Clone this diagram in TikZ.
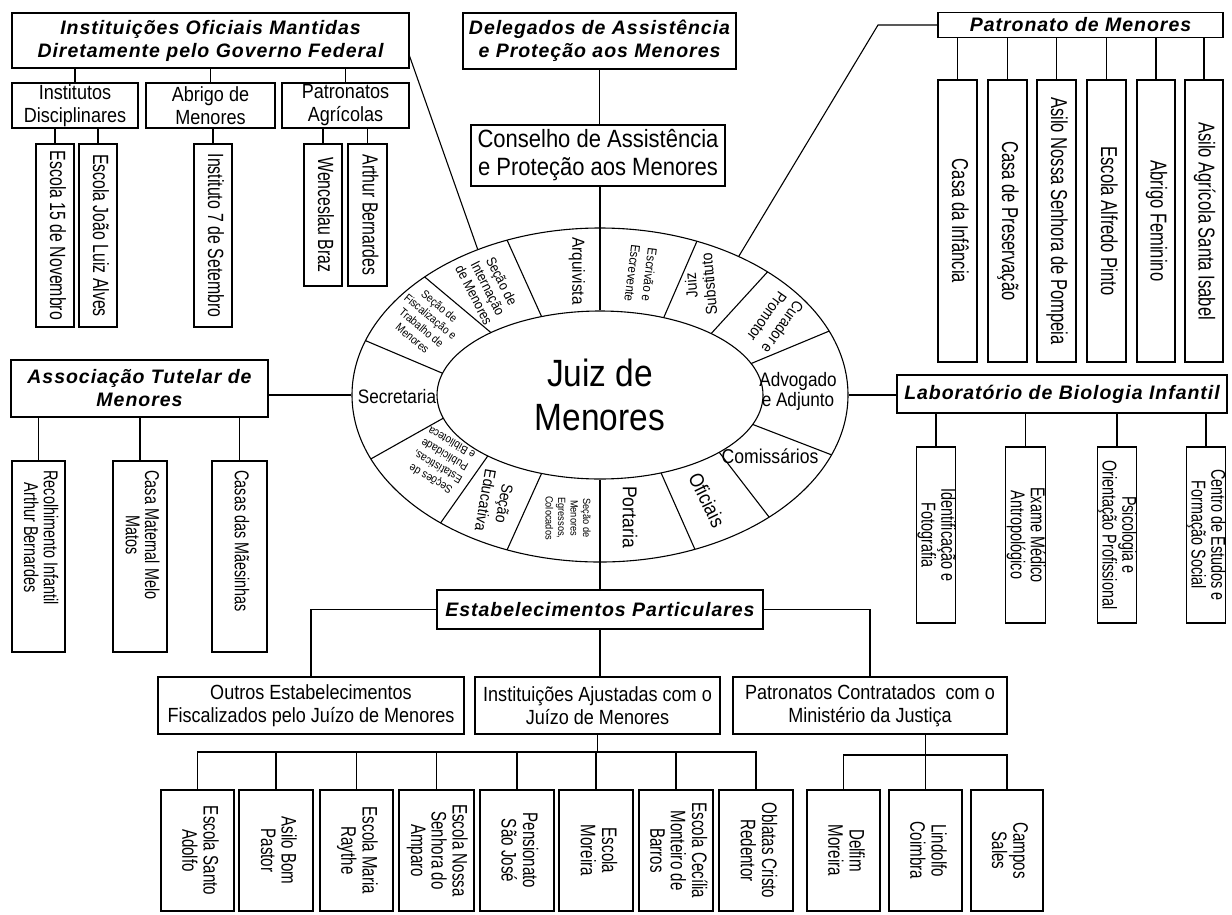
\documentclass[tikz,border=0pt]{standalone}
\usepackage{fontspec}
\usepackage{graphicx}
\setmainfont{Liberation Sans}
\newfontfamily\hf[FakeStretch=0.88]{Liberation Sans}
\newfontfamily\vf[FakeStretch=0.72]{Liberation Sans}
\newfontfamily\tf[LetterSpace=5]{Liberation Sans}
\usetikzlibrary{shapes.geometric,calc}
\newcommand{\vt}[1]{\rotatebox{-90}{\begin{tabular}{@{}c@{}}#1\end{tabular}}}
\newcommand{\vtt}[2]{\rotatebox{-90}{\makebox[#1][l]{\begin{tabular}{@{}c@{}}#2\end{tabular}}}}
\tikzset{
 ln/.style={line width=1.1pt},
 sz/.style 2 args={minimum width=#1pt, minimum height=#2pt},
 bx/.style={draw, ln, inner sep=0pt, outer sep=0pt, align=center, font=\hf\fontsize{20.5}{23}\selectfont},
 ttl/.style={bx, font=\tf\bfseries\itshape\fontsize{19.5}{23}\selectfont},
 lfa/.style={draw, ln, inner sep=0pt, outer sep=0pt, font=\vf\fontsize{22}{20}\selectfont},
 lfb/.style={lfa, font=\vf\fontsize{23}{20}\selectfont},
 lfc/.style={lfa, font=\vf\fontsize{20}{18}\selectfont},
 lfd/.style={lfa, font=\vf\fontsize{21}{20}\selectfont},
 rl/.style={inner sep=0pt, align=center},
}
\begin{document}
\begin{tikzpicture}[x=1pt, y=-1pt]
\fill[white] (0,0) rectangle (1232,914);
\useasboundingbox (0,0) rectangle (1232,914);

% ---------- top left
\node[ttl, sz={397}{55}] (ioff) at (210.5,40.5) {Instituições Oficiais Mantidas\\Diretamente pelo Governo Federal};
\node[bx, sz={126}{45}] (instd) at (75,105.5) {Institutos\\Disciplinares};
\node[bx, sz={129}{45}] (abrig) at (210.5,105.5) {Abrigo de\\Menores};
\node[bx, sz={127}{45}] (patag) at (345.5,105.5) {Patronatos\\Agrícolas};
\node[lfa, sz={38}{183}] (e15) at (55,235.5) {\vt{Escola 15 de Novembro}};
\node[lfa, sz={38}{183}] (ejla) at (98,235.5) {\vt{Escola João Luiz Alves}};
\node[lfa, sz={38}{183}] (i7) at (213,235.5) {\vt{Instituto 7 de Setembro}};
\node[lfa, sz={38}{142}] (wb) at (323,215) {\vt{Wenceslau Braz}};
\node[lfa, sz={39}{142}] (abe) at (367.5,215) {\vt{Arthur Bernardes}};

% ---------- top centre
\node[ttl, sz={273}{56}] (deleg) at (599.5,41) {Delegados de Assistência\\e Proteção aos Menores};
\node[bx, sz={254}{61}, font=\hf\fontsize{25}{28}\selectfont] (cons) at (598,155.5) {Conselho de Assistência\\e Proteção aos Menores};

% ---------- top right
\node[ttl, sz={285}{25}] (patm) at (1080.5,25) {Patronato de Menores};
\node[lfb, sz={39}{282}] (tr1) at (957.5,221) {\vt{Casa da Infância}};
\node[lfb, sz={39}{282}] (tr2) at (1007.5,221) {\vt{Casa de Preservação}};
\node[lfb, sz={39}{282}] (tr3) at (1056.5,221) {\vt{Asilo Nossa Senhora de Pompeia}};
\node[lfb, sz={39}{282}] (tr4) at (1106.5,221) {\vt{Escola Alfredo Pinto}};
\node[lfb, sz={38}{282}] (tr5) at (1156,221) {\vt{Abrigo Feminino}};
\node[lfb, sz={38}{282}] (tr6) at (1204,221) {\vt{Asilo Agrícola Santa Isabel}};

% ---------- ring
\node[draw, ln, ellipse, sz={496}{334}, inner sep=0pt] (ring) at (600,395) {};
\node[draw, ln, ellipse, sz={326}{168}, inner sep=0pt, align=center, font=\hf\fontsize{38}{44}\selectfont] (juiz) at (600,395) {Juiz de\\Menores};
\begin{scope}[shift={(600,395)}]
\foreach \a/\b in {-67/-67,-47/-47.5,-22/-22.5,20.5/21,43/47,68/67.5,111/112,133.5/130,164/157.5,-165/-161,-132/-135,-111/-112}
  \draw[ln] (\a:163 and 84) -- (\b:248 and 167);
\end{scope}
\node[rl, rotate=-90, font=\hf\fontsize{17.5}{20}\selectfont] (sArq) at (577,271) {Arquivista};
\node[rl, rotate=-97, font=\hf\fontsize{13}{17}\selectfont] (sEsc) at (641,274) {Escrivão e\\Escrevente};
\node[rl, rotate=95, font=\hf\fontsize{16}{18}\selectfont] (sJui) at (700,285) {Juiz\\Substituto};
\node[rl, rotate=235, font=\hf\fontsize{15.5}{19}\selectfont] (sCur) at (775,322) {Curador e\\Promotor};
\node[rl, font=\hf\fontsize{19.5}{20}\selectfont] (sAdv) at (798,391) {Advogado\\e Adjunto};
\node[rl, font=\hf\fontsize{20}{22}\selectfont] (sCom) at (770,456) {Comissários};
\node[rl, rotate=-64, font=\hf\fontsize{20}{22}\selectfont] (sOfi) at (707,500) {Oficiais};
\node[rl, rotate=-90, font=\hf\fontsize{20}{22}\selectfont] (sPor) at (630,517) {Portaria};
\node[rl, rotate=-90, font=\hf\fontsize{10.5}{12.5}\selectfont] (sMen) at (568,518) {Seção de\\Menores\\Egressos,\\Colocados};
\node[rl, rotate=-100, font=\hf\fontsize{16}{19}\selectfont] (sEdu) at (495,502) {Seção\\Educativa};
\node[rl, rotate=150, font=\hf\fontsize{11.5}{14}\selectfont] (sEst) at (441,461) {Seções de\\Estatísticas,\\Publicidade\\e Biblioteca};
\node[rl, font=\hf\fontsize{19.5}{22}\selectfont] (sSec) at (397,397) {Secretaria};
\node[rl, rotate=-40, font=\hf\fontsize{11.5}{14}\selectfont] (sFis) at (426,322) {Seção de\\Fiscalização e\\Trabalho de\\Menores};
\node[rl, rotate=-63, font=\hf\fontsize{14}{15.5}\selectfont] (sInt) at (488,288) {Seção de\\Internação\\de Menores};

% ---------- left
\node[ttl, sz={257}{57}] (assoc) at (139.5,388.5) {Associação Tutelar de\\Menores};
\node[lfc, sz={53}{191}] (al1) at (38.5,556.5) {\vtt{172pt}{Recolhimento Infantil\\Arthur Bernardes}};
\node[lfc, sz={54}{191}] (al2) at (140,556.5) {\vtt{172pt}{Casa Maternal Melo\\Matos}};
\node[lfc, sz={55}{191}] (al3) at (239.5,556.5) {\vtt{172pt}{Casas das Mãesinhas}};

% ---------- right
\node[ttl, sz={330}{38}] (lab) at (1062,394) {Laboratório de Biologia Infantil};
\node[lfc, sz={38}{176}] (ar1) at (936,535) {\vt{Identificação e\\Fotografia}};
\node[lfc, sz={37}{176}] (ar2) at (1025.5,535) {\vt{Exame Médico\\Antropológico}};
\node[lfc, sz={38}{176}] (ar3) at (1117,535) {\vt{Psicologia e\\Orientação Profissional}};
\node[lfc, sz={38}{176}] (ar4) at (1206,535) {\vt{Centro de Estudos e\\Formação Social}};

% ---------- bottom
\node[ttl, sz={326}{39}] (estab) at (600,609.5) {Estabelecimentos Particulares};
\node[bx, sz={306}{57}] (outros) at (311,705.5) {Outros Estabelecimentos\\Fiscalizados pelo Juízo de Menores};
\node[bx, sz={245}{57}] (ajust) at (597.5,705.5) {Instituições Ajustadas com o\\Juízo de Menores};
\node[bx, sz={274}{57}] (patc) at (870,705.5) {Patronatos Contratados~ com o\\Ministério da Justiça};
\node[lfd, sz={73}{121}] (b1) at (197.5,850.5) {\vt{Escola Santo\\Adolfo}};
\node[lfd, sz={74}{121}] (b2) at (276,850.5) {\vt{Asilo Bom\\Pastor}};
\node[lfd, sz={73}{121}] (b3) at (356.5,850.5) {\vt{Escola Maria\\Raythe}};
\node[lfd, sz={75}{121}] (b4) at (436.5,850.5) {\vt{Escola Nossa\\Senhora do\\Amparo}};
\node[lfd, sz={74}{121}] (b5) at (517,850.5) {\vt{Pensionato\\São José}};
\node[lfd, sz={74}{121}] (b6) at (596,850.5) {\vt{Escola\\Moreira}};
\node[lfd, sz={74}{121}] (b7) at (676,850.5) {\vt{Escola Cecília\\Monteiro de\\Barros}};
\node[lfd, sz={74}{121}] (b8) at (756,850.5) {\vt{Oblatas Cristo\\Redentor}};
\node[lfd, sz={73}{121}] (b9) at (843.5,850.5) {\vt{Delfim\\Moreira}};
\node[lfd, sz={73}{121}] (b10) at (925.5,850.5) {\vt{Lindolfo\\Coimbra}};
\node[lfd, sz={72}{121}] (b11) at (1007,850.5) {\vt{Campos\\Sales}};

% ---------- connectors
\draw[ln] (deleg.south) -- (deleg.south |- cons.north);
\draw[ln] (juiz.north) -- (juiz.north |- cons.south);
\draw[ln] (juiz.south) -- (juiz.south |- estab.north);
\draw[ln] (estab.south) -- (estab.south |- ajust.north);
\draw[ln] (estab.west) -| (outros.north);
\draw[ln] (estab.east) -| (patc.north);
\draw[ln] ([yshift=-14pt]ioff.east) -- (ring.130);
\draw[ln] (patm.west) -- ++(-60,0) -- (ring.45);
\draw[ln] (ring.west) -- (ring.west -| assoc.east);
\draw[ln] (ring.east) -- (ring.east -| lab.west);
\foreach \n in {instd,abrig,patag} \draw[ln] (\n.north) -- (\n.north |- ioff.south);
\foreach \n in {e15,ejla} \draw[ln] (\n.north) -- (\n.north |- instd.south);
\draw[ln] (i7.north) -- (i7.north |- abrig.south);
\foreach \n in {wb,abe} \draw[ln] (\n.north) -- (\n.north |- patag.south);
\foreach \n in {tr1,tr2,tr3,tr4,tr5,tr6} \draw[ln] (\n.north) -- (\n.north |- patm.south);
\foreach \n in {al1,al2,al3} \draw[ln] (\n.north) -- (\n.north |- assoc.south);
\foreach \n in {ar1,ar2,ar3,ar4} \draw[ln] (\n.north) -- (\n.north |- lab.south);
\path (ajust.south) ++(0,18) coordinate (abus);
\draw[ln] (ajust.south) -- (abus);
\foreach \n in {b1,b2,b3,b4,b5,b6,b7,b8} \draw[ln] (\n.north) |- (abus);
\path (b10.north) ++(0,-35) coordinate (pbus);
\draw[ln] (patc.south -| b10.north) -- (b10.north);
\draw[ln] (b9.north) |- (pbus) -| (b11.north);
\end{tikzpicture}
\end{document}
